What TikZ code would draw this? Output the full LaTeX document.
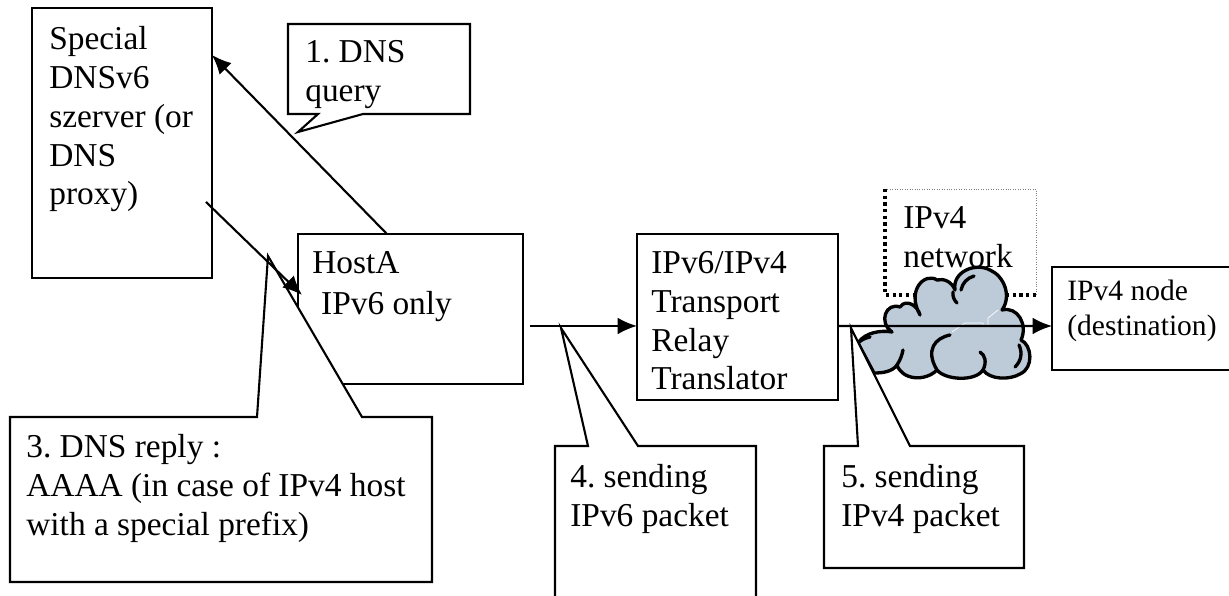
\documentclass[tikz,border=0pt]{standalone}
\usepackage{fontspec}
\setmainfont{Liberation Serif}
\usetikzlibrary{arrows.meta}
\definecolor{cloudblue}{RGB}{189,202,216}
\frenchspacing
\tikzset{
  boxnode/.style={draw, fill=white, line width=1.2pt, anchor=north west, inner sep=0pt, outer sep=0pt},
  boxtext/.style={anchor=north west, inner sep=0pt, align=left, font=\fontsize{19}{22.1}\selectfont},
  smalltext/.style={boxtext, font=\fontsize{16.8}{19.8}\selectfont},
  bubble/.style={draw, fill=white, line width=1.2pt},
  link/.style={line width=1.2pt, -{Latex[length=11pt,width=9.5pt]}},
  cloudline/.style={line width=1.9pt, line cap=round, line join=round}
}
\begin{document}
\begin{tikzpicture}[x=0.02cm,y=-0.02cm]
\clip (0,0) rectangle (1229,595);
\fill[white] (0,0) rectangle (1229,595);
% boxes
\node[boxnode, minimum width=3.6cm, minimum height=5.4cm] (server) at (32,8) {};
\node[boxnode, minimum width=4.5cm, minimum height=3cm] (hostA) at (298,234) {};
\node[boxnode, minimum width=4.02cm, minimum height=3.32cm] (relay) at (637,234) {};
\node[boxnode, minimum width=3.9cm, minimum height=2.06cm] (dest) at (1052,267) {};
\node[anchor=north west, inner sep=0pt, outer sep=0pt, minimum width=3.02cm, minimum height=2.12cm] (netbox) at (885,189) {};
% dotted frame, thin on two sides
\draw[gray, line width=.4pt, densely dotted] (netbox.north west) -- (netbox.north east) -- (netbox.south east);
\draw[line width=1.8pt, dotted] (netbox.north west) -- (netbox.south west) -- (netbox.south east);
\node[boxtext] (nettext) at (903,206) {IPv4\\network};
% cloud
\draw[cloudline, fill=cloudblue] (858,343)
  .. controls (865,332) and (882,330) .. (892,332)
  .. controls (878,322) and (886,302) .. (900,307)
  .. controls (906,298) and (918,306) .. (920,315)
  .. controls (906,290) and (925,272) .. (937,280)
  .. controls (944,278) and (952,282) .. (955,290)
  .. controls (952,272) and (975,262) .. (990,270)
  .. controls (1004,276) and (1012,296) .. (1002,310)
  .. controls (1018,306) and (1028,325) .. (1021,340)
  .. controls (1032,345) and (1034,368) .. (1020,374)
  .. controls (1010,380) and (990,380) .. (983,370)
  .. controls (975,382) and (945,380) .. (937,370)
  .. controls (925,382) and (902,380) .. (897,365)
  .. controls (892,372) and (882,373) .. (874,373)
  -- cycle;
\draw[cloudline] (953,292) to[bend right=25] (957,303);
\draw[cloudline] (961,290) to[bend left=30] (974,276);
\draw[cloudline] (937,370) .. controls (925,350) and (935,338) .. (950,335);
\draw[cloudline] (983,370) .. controls (987,362) and (985,355) .. (980,352);
\draw[cloudline] (897,365) to[bend right=10] (903,350);
\draw[cloudline] (858,343) to[bend left=15] (870,337);
\draw[cloudline] (1019,345) to[bend left=35] (1015,367);
\draw[white, line width=.4pt] (952,332) -- (965,323) -- (983,323) -- (983,327) (988,327) -- (988,318) -- (998,310);
% callouts
\draw[bubble] (288,24) -- (470,24) -- (470,114) -- (363,114) -- (298,132) -- (318,114) -- (288,114) -- cycle;
\draw[bubble] (10,417) -- (257,417) -- (268,256) -- (362,417) -- (432,417) -- (432,582) -- (10,582) -- cycle;
\draw[bubble] (555,446) -- (588,446) -- (561,328) -- (638,446) -- (756,446) -- (756,620) -- (555,620) -- cycle;
\draw[bubble] (824,446) -- (858,446) -- (851,328) -- (910,446) -- (1024,446) -- (1024,568) -- (824,568) -- cycle;
% connectors
\draw[link] ([xshift=1.78cm]hostA.north west) -- ([yshift=-.94cm]server.north east);
\draw[link] ([xshift=-.12cm,yshift=-1.18cm]server.east) -- ([xshift=.08cm,yshift=.28cm]hostA.west);
\draw[link] ([xshift=.14cm,yshift=-.34cm]hostA.east) -- ([yshift=-.18cm]relay.west);
\draw[link] ([yshift=-.18cm]relay.east) -- ([yshift=-.15cm]dest.west);
% texts
\node[boxtext] (servertext) at (49,26) {Special\\DNSv6\\szerver (or\\DNS\\proxy)};
\node[boxtext] (querytext) at (305,40) {1. DNS\\query};
\node[boxtext] (hosttext) at (312,251) {HostA\\[1.1pt]\hspace{5pt}IPv6 only};
\node[boxtext] (relaytext) at (651,251) {IPv6/IPv4\\Transport\\Relay\\Translator};
\node[boxtext] (replytext) at (26,434) {3. DNS reply :\\AAAA (in case of IPv4 host\\with a special prefix)};
\node[boxtext] (send6text) at (570,464) {4. sending\\IPv6 packet};
\node[boxtext] (send4text) at (841,464) {5. sending\\IPv4 packet};
\node[smalltext] (desttext) at (1067,280) {IPv4 node\\(destination)};
\end{tikzpicture}
\end{document}
